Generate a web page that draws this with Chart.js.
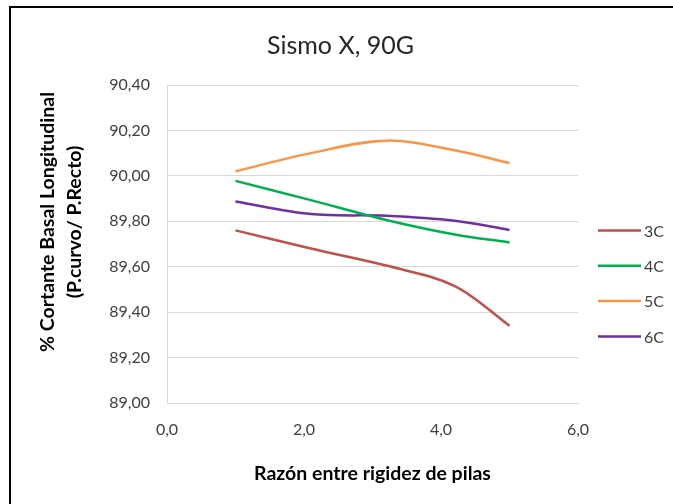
<!DOCTYPE html>
<html>
<head>
<meta charset="utf-8">
<script src="https://cdn.jsdelivr.net/npm/chart.js@4/dist/chart.umd.min.js"></script>
<style>
  html, body { margin: 0; padding: 0; background: #fff; }
  #wrap { position: relative; width: 673px; height: 504px; overflow: hidden; }
  #frame { position: absolute; left: 9px; top: 6px; width: 700px; height: 600px;
           border-left: 2px solid #000; border-top: 2px solid #000; pointer-events: none; }
  canvas { position: absolute; left: 0; top: 0; }
</style>
</head>
<body>
<div id="wrap">
  <canvas id="c" width="673" height="504"></canvas>
  <div id="frame"></div>
</div>
<script>
// Stiffness ratio between piers (x) and basal shear ratio curved/straight (%)
const ratios = [1.0, 2.1, 3.2, 4.2, 5.0];
const serie3C = [89.76, 89.68, 89.605, 89.515, 89.34];
const serie4C = [89.978, 89.893, 89.806, 89.742, 89.707];
const serie5C = [90.02, 90.10, 90.155, 90.113, 90.056];
const serie6C = [89.887, 89.832, 89.824, 89.802, 89.762];
const seriesNames = ['3C', '4C', '5C', '6C'];
const seriesColors = ['#c0504d', '#00b050', '#f79646', '#7030a0'];
const seriesValues = [serie3C, serie4C, serie5C, serie6C];
const yTitleLines = ['% Cortante Basal Longitudinal', '(P.curvo/ P.Recto)'];

const FONT = 'Lato, "Open Sans", "Liberation Sans", sans-serif';
const comma = (v, d) => v.toFixed(d).replace('.', ',');

const datasets = seriesValues.map((vals, i) => ({
  label: seriesNames[i],
  data: vals.map((y, k) => ({ x: ratios[k], y })),
  borderColor: seriesColors[i],
  backgroundColor: seriesColors[i],
  borderWidth: 2.5,
  pointRadius: 0,
  tension: 0.35,
  fill: false,
  yAxisID: 'y'
}));

// Legend drawn as short line samples stacked on the right side
const sideLegend = {
  id: 'sideLegend',
  afterDraw(chart) {
    const ctx = chart.ctx;
    ctx.save();
    ctx.font = '16px ' + FONT;
    ctx.textBaseline = 'middle';
    ctx.textAlign = 'left';
    chart.data.datasets.forEach((ds, i) => {
      const y = 230.5 + i * 35.3;
      ctx.strokeStyle = ds.borderColor;
      ctx.lineWidth = 2.5;
      ctx.beginPath();
      ctx.moveTo(598, y);
      ctx.lineTo(641, y);
      ctx.stroke();
      ctx.fillStyle = '#404040';
      ctx.fillText(ds.label, 644, y + 1);
    });
    ctx.restore();
  }
};

// Two-line rotated value-axis title, centred a little above the plot middle
const valueAxisTitle = {
  id: 'valueAxisTitle',
  afterDraw(chart) {
    const ctx = chart.ctx;
    ctx.save();
    ctx.font = 'bold 19.5px ' + FONT;
    ctx.fillStyle = '#000';
    ctx.textAlign = 'center';
    ctx.textBaseline = 'middle';
    const cy = 222;
    yTitleLines.forEach((line, i) => {
      ctx.save();
      ctx.translate(48 + i * 27, cy);
      ctx.rotate(-Math.PI / 2);
      ctx.fillText(line, 0, 0);
      ctx.restore();
    });
    ctx.restore();
  }
};

new Chart(document.getElementById('c'), {
  type: 'line',
  data: { datasets },
  options: {
    responsive: false,
    animation: false,
    layout: { padding: { left: 8, right: 0, top: 0, bottom: 0 } },
    plugins: {
      legend: { display: false },
      tooltip: { enabled: false },
      title: {
        display: true,
        text: 'Sismo X, 90G',
        color: '#262626',
        font: { family: FONT, size: 25, weight: 'normal', lineHeight: 1.2 },
        padding: { top: 31, bottom: 24 }
      }
    },
    scales: {
      x: {
        type: 'linear',
        min: 0, max: 6,
        ticks: {
          stepSize: 2,
          color: '#404040',
          font: { family: FONT, size: 16 },
          padding: 17,
          callback: v => comma(v, 1)
        },
        grid: { display: false, drawTicks: false },
        border: { display: true, color: '#d9d9d9', width: 1 },
        title: {
          display: true,
          text: 'Razón entre rigidez de pilas',
          color: '#000',
          font: { family: FONT, size: 19.5, weight: 'bold', lineHeight: 1.2 },
          padding: { top: 0, bottom: 19 }
        },
        afterFit(scale) { scale.height = 504 - 403; }
      },
      y: {
        position: 'left',
        min: 89.0, max: 90.4,
        ticks: {
          stepSize: 0.2,
          color: '#404040',
          font: { family: FONT, size: 16 },
          padding: 17,
          callback: v => comma(v, 2)
        },
        grid: { color: '#d9d9d9', lineWidth: 1, drawTicks: false },
        border: { display: true, color: '#d9d9d9', width: 1 },
        afterFit(scale) { scale.width = 167 - 8; }
      },
      yRight: {
        position: 'right',
        min: 89.0, max: 90.4,
        ticks: { display: false },
        grid: { display: false, drawTicks: false },
        border: { display: false },
        afterFit(scale) { scale.width = 673 - 578; }
      }
    }
  },
  plugins: [sideLegend, valueAxisTitle]
});
</script>
</body>
</html>
